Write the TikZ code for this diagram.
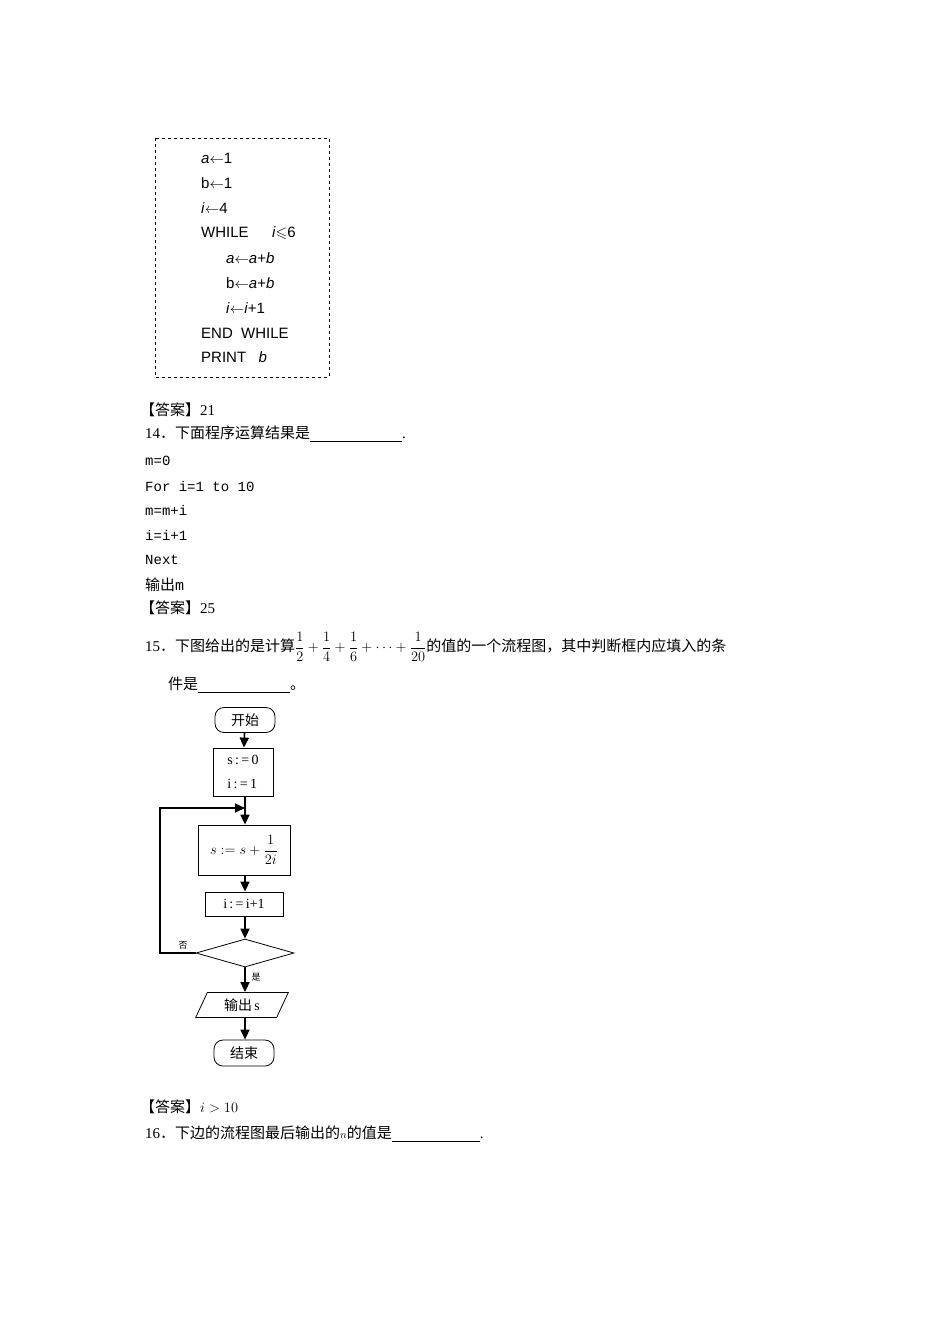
\documentclass[tikz,border=0pt]{standalone}
\usepackage{amssymb}
\usepackage{amsmath}
\usepackage{fontspec}
\setmainfont{Liberation Serif}
\setsansfont{Liberation Sans}
\setmonofont{Liberation Mono}
\newfontfamily\cjk{Noto Sans CJK SC}
\usetikzlibrary{shapes.geometric,arrows.meta}
\begin{document}
\begin{tikzpicture}[x=1pt,y=-1pt,
  txt/.style={anchor=west,inner sep=0pt,font=\fontsize{15}{15}\selectfont},
  code/.style={anchor=west,inner sep=0pt,font=\sffamily\fontsize{15}{15}\selectfont},
  fbox/.style={draw,line width=0.8pt,inner sep=0pt},
  arr/.style={line width=1.6pt,-{Triangle[length=10pt,width=9pt]}},
  lab/.style={inner sep=0pt,font=\cjk\fontsize{9}{9}\selectfont}]
\useasboundingbox (0,0) rectangle (950,1344);
\draw[dashed,line width=0.7pt] (155,138) rectangle (329,377);
\node[code] (c1) at (201,158) {\textit{a}$\leftarrow$1};
\node[code] (c2) at (201,183) {b$\leftarrow$1};
\node[code] (c3) at (201,208) {\textit{i}$\leftarrow$4};
\node[code] (c4) at (201,233) {WHILE\quad\ \ \textit{i}$\leqslant$6};
\node[code] (c5) at (226,258) {\textit{a}$\leftarrow$\textit{a}+\textit{b}};
\node[code] (c6) at (226,283) {b$\leftarrow$\textit{a}+\textit{b}};
\node[code] (c7) at (226,308) {\textit{i}$\leftarrow$\textit{i}+1};
\node[code] (c8) at (201,333) {END\ \ WHILE};
\node[code] (c9) at (201,357) {PRINT\ \ \ \textit{b}};
\node[txt] (a1) at (140,410) {{\cjk 【答案】}21};
\node[txt] (q14) at (145,434) {14{\cjk ．下面程序运算结果是}\underline{\hspace{92pt}}.};
\node[txt,font=\ttfamily\fontsize{14}{14}\selectfont] (m1) at (145,461) {m=0};
\node[txt,font=\ttfamily\fontsize{14}{14}\selectfont] (m2) at (145,486) {For i=1 to 10};
\node[txt,font=\ttfamily\fontsize{14}{14}\selectfont] (m3) at (145,510) {m=m+i};
\node[txt,font=\ttfamily\fontsize{14}{14}\selectfont] (m4) at (145,535) {i=i+1};
\node[txt,font=\ttfamily\fontsize{14}{14}\selectfont] (m5) at (145,560) {Next};
\node[txt] (m6) at (145,585) {{\cjk 输出}\texttt{m}};
\node[txt] (a2) at (140,608) {{\cjk 【答案】}25};
\node[txt] (q15) at (145,647) {15{\cjk ．下图给出的是计算}$\dfrac{1}{2}+\dfrac{1}{4}+\dfrac{1}{6}+\cdots+\dfrac{1}{20}${\cjk 的值的一个流程图，其中判断框内应填入的条}};
\node[txt] (q15b) at (168,685) {{\cjk 件是}\underline{\hspace{92pt}}{\cjk 。}};
% flowchart
\node[fbox,rounded corners=9pt,minimum width=60pt,minimum height=25pt,font=\cjk\fontsize{14}{14}\selectfont] (st) at (245,720) {开始};
\node[fbox,minimum width=60pt,minimum height=48pt,align=left,font=\fontsize{14}{24}\selectfont] (init) at (243,772) {s\,:\,=\,0\\ i\,:\,=\,1};
\node[fbox,minimum width=92pt,minimum height=50pt,font=\fontsize{15}{15}\selectfont] (upd) at (244,850) {$s:=s+\dfrac{1}{2i}$};
\node[fbox,minimum width=78pt,minimum height=24pt,font=\fontsize{14}{14}\selectfont] (inc) at (244,904) {i\,:\,=\,i+1};
\node[fbox,diamond,aspect=3.5,minimum width=98pt,minimum height=28pt] (dec) at (245,953) {};
\node[fbox,trapezium,trapezium left angle=65,trapezium right angle=115,minimum width=70pt,minimum height=25pt,font=\fontsize{14}{14}\selectfont] (out) at (242,1005) {{\cjk 输出}\,s};
\node[fbox,rounded corners=9pt,minimum width=60pt,minimum height=26pt,font=\cjk\fontsize{14}{14}\selectfont] (en) at (244,1053) {结束};
\coordinate (j) at (245,808);
\draw[arr] (st) -- (init);
\draw[line width=1.6pt] (init.south -| j) -- (j);
\draw[arr] (j) -- (j |- upd.north);
\draw[arr] (upd.south -| j) -- (j |- inc.north);
\draw[arr] (inc.south -| j) -- (dec.north);
\draw[arr] (dec.west) -- (160,953) -- (160,808) -- (j);
\draw[arr] (dec.south) -- (out.north -| dec.south);
\draw[arr] (out.south -| dec.south) -- (en.north -| dec.south);
\node[lab] (no) at (183,945) {否};
\node[lab] (yes) at (256,977) {是};
\node[txt] (a3) at (140,1107) {{\cjk 【答案】}$i>10$};
\node[txt] (q16) at (145,1134) {16{\cjk ．下边的流程图最后输出的}$\scriptstyle n${\cjk 的值是}\underline{\hspace{88pt}}.};
\end{tikzpicture}
\end{document}
